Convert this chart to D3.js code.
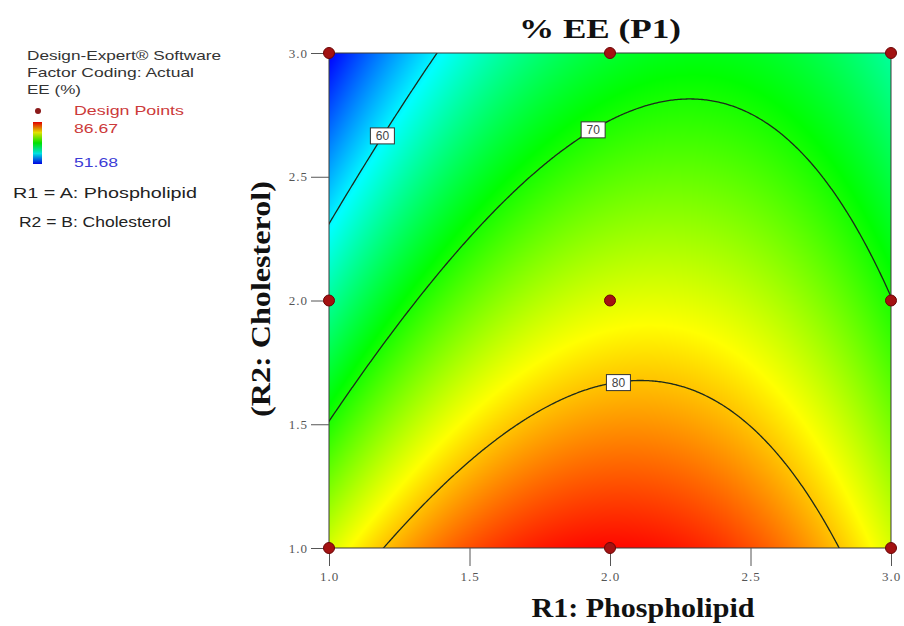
<!DOCTYPE html>
<html><head><meta charset="utf-8">
<script src="https://cdn.jsdelivr.net/npm/d3@7/dist/d3.min.js"></script>
<style>body{margin:0;background:#fff;} svg{display:block;}</style>
</head><body>
<svg id="chart" width="904" height="626"></svg>
<script>
// ---------- data (3x3 design) ----------
const phospholipid = [1.0, 2.0, 3.0, 1.0, 2.0, 3.0, 1.0, 2.0, 3.0];   // R1 (A)
const cholesterol  = [1.0, 1.0, 1.0, 2.0, 2.0, 2.0, 3.0, 3.0, 3.0];   // R2 (B)
const eeValues     = [76.49, 86.67, 76.49, 63.84, 76.67, 70.20, 51.68, 67.38, 63.79];
const contourLevels  = [60, 70, 80];
const contourLabelAt = [1.19, 1.94, 2.03];   // R1 value where each level label sits
const xTicks = [1.0, 1.5, 2.0, 2.5, 3.0];
const yTicks = [1.0, 1.5, 2.0, 2.5, 3.0];
const colorRange = [51.68, 86.67];
const titleText = "% EE (P1)";
const xLabel = "R1: Phospholipid";
const yLabel = "(R2: Cholesterol)";

// ---------- quadratic response-surface fit (least squares) ----------
function terms(A, B) { const a = A - 2, b = B - 2; return [1, a, b, a * b, a * a, b * b]; }
function fitModel() {
  const n = 6, M = Array.from({length: n}, () => new Array(n + 1).fill(0));
  eeValues.forEach((v, k) => {
    const t = terms(phospholipid[k], cholesterol[k]);
    for (let i = 0; i < n; i++) { for (let j = 0; j < n; j++) M[i][j] += t[i] * t[j]; M[i][n] += t[i] * v; }
  });
  for (let c = 0; c < n; c++) {
    let p = c; for (let r = c + 1; r < n; r++) if (Math.abs(M[r][c]) > Math.abs(M[p][c])) p = r;
    [M[c], M[p]] = [M[p], M[c]];
    for (let r = 0; r < n; r++) if (r !== c) {
      const f = M[r][c] / M[c][c];
      for (let k = c; k <= n; k++) M[r][k] -= f * M[c][k];
    }
  }
  return M.map((row, i) => row[n] / row[i]);
}
const coef = fitModel();
const model = (A, B) => terms(A, B).reduce((s, t, i) => s + t * coef[i], 0);

// ---------- scales ----------
const L = 329, R = 891, T = 53, Bt = 548;
const x = d3.scaleLinear().domain([1, 3]).range([L, R]);
const y = d3.scaleLinear().domain([1, 3]).range([Bt, T]);
const [lo, hi] = colorRange, st = (hi - lo) / 4;
const color = d3.scaleLinear()
  .domain([lo, lo + st, lo + 2 * st, lo + 3 * st, hi])
  .range(["#0000ff", "#00ffff", "#00ff00", "#ffff00", "#ff0000"])
  .clamp(true);

const svg = d3.select("#chart");

// ---------- heat map ----------
const W = R - L, H = Bt - T;
const cv = document.createElement("canvas"); cv.width = W; cv.height = H;
const ctx = cv.getContext("2d"), img = ctx.createImageData(W, H);
for (let py = 0; py < H; py++) {
  const B = y.invert(T + py + 0.5);
  for (let px = 0; px < W; px++) {
    const c = d3.rgb(color(model(x.invert(L + px + 0.5), B)));
    const o = (py * W + px) * 4;
    img.data[o] = c.r; img.data[o + 1] = c.g; img.data[o + 2] = c.b; img.data[o + 3] = 255;
  }
}
ctx.putImageData(img, 0, 0);
svg.append("image").attr("x", L).attr("y", T).attr("width", W).attr("height", H)
  .attr("preserveAspectRatio", "none").attr("href", cv.toDataURL());

// ---------- contour lines ----------
svg.append("clipPath").attr("id", "plotclip").append("rect")
  .attr("x", L).attr("y", T).attr("width", W).attr("height", H);
const g0 = 0.9, step = 0.005, ng = Math.round((3.1 - g0) / step) + 1;
const grid = new Float64Array(ng * ng);
for (let j = 0; j < ng; j++) for (let i = 0; i < ng; i++) grid[j * ng + i] = model(g0 + i * step, g0 + j * step);
const contours = d3.contours().size([ng, ng]).thresholds(contourLevels)(Array.from(grid));
const proj = d3.geoTransform({ point(px, py) { this.stream.point(x(g0 + px * step), y(g0 + py * step)); } });
svg.append("g").attr("clip-path", "url(#plotclip)")
  .selectAll("path").data(contours).join("path")
  .attr("d", d3.geoPath(proj)).attr("fill", "none")
  .attr("stroke", "#1c2a1c").attr("stroke-width", 1.3);

// contour labels
function levelB(A, level) {
  let prev = model(A, 1), pb = 1;
  for (let B = 1.001; B <= 3; B += 0.001) {
    const v = model(A, B);
    if ((prev - level) * (v - level) <= 0) return pb + (level - prev) / (v - prev) * (B - pb);
    prev = v; pb = B;
  }
  return 2;
}
const lab = svg.append("g").selectAll("g").data(contourLevels).join("g")
  .attr("transform", (d, i) => `translate(${x(contourLabelAt[i])},${y(levelB(contourLabelAt[i], d))})`);
lab.append("rect").attr("x", -12).attr("y", -8).attr("width", 24).attr("height", 16)
  .attr("fill", "#fff").attr("stroke", "#333").attr("stroke-width", 1);
lab.append("text").text(d => d).attr("text-anchor", "middle").attr("dy", "0.36em")
  .attr("font-family", "Liberation Sans, Arial, sans-serif").attr("font-size", 12).attr("fill", "#444");

// ---------- frame & axes ----------
svg.append("rect").attr("x", L).attr("y", T).attr("width", W).attr("height", H)
  .attr("fill", "none").attr("stroke", "#3a3a3a").attr("stroke-width", 1);

const xa = svg.append("g").attr("transform", `translate(0,${Bt})`)
  .call(d3.axisBottom(x).tickValues(xTicks).tickFormat(d3.format(".1f")).tickSize(18).tickPadding(6));
const ya = svg.append("g").attr("transform", `translate(${L},0)`)
  .call(d3.axisLeft(y).tickValues(yTicks).tickFormat(d3.format(".1f")).tickSize(18).tickPadding(3));
[xa, ya].forEach(a => {
  a.select(".domain").remove();
  a.selectAll(".tick line").attr("stroke", "#555");
  a.selectAll(".tick text").attr("font-family", "Liberation Serif, Times New Roman, serif")
    .attr("font-size", 13).attr("fill", "#555").attr("letter-spacing", 1);
});

// ---------- design points ----------
svg.append("g").selectAll("circle").data(eeValues).join("circle")
  .attr("cx", (d, i) => x(phospholipid[i])).attr("cy", (d, i) => y(cholesterol[i]))
  .attr("r", 5.5).attr("fill", "#a31212").attr("stroke", "#6b0606").attr("stroke-width", 1);

// ---------- titles ----------
const serif = "Liberation Serif, Times New Roman, serif";
svg.append("text").text(titleText).attr("x", 600).attr("y", 38).attr("text-anchor", "middle")
  .attr("font-family", serif).attr("font-weight", "bold").attr("font-size", 28)
  .attr("textLength", 162).attr("lengthAdjust", "spacingAndGlyphs").attr("fill", "#111");
svg.append("text").text(xLabel).attr("x", 643).attr("y", 617).attr("text-anchor", "middle")
  .attr("font-family", serif).attr("font-weight", "bold").attr("font-size", 27)
  .attr("textLength", 223).attr("lengthAdjust", "spacingAndGlyphs").attr("fill", "#111");
svg.append("text").text(yLabel).attr("transform", "translate(270,299) rotate(-90)")
  .attr("text-anchor", "middle").attr("font-family", serif).attr("font-weight", "bold")
  .attr("font-size", 27).attr("textLength", 236).attr("lengthAdjust", "spacingAndGlyphs").attr("fill", "#111");

// ---------- legend ----------
const sans = "Liberation Sans, Arial, sans-serif";
const leg = svg.append("g").attr("font-family", sans);
const legendItems = [
  {t: "Design-Expert® Software", x: 27, y: 60, w: 194, c: "#333", s: 13},
  {t: "Factor Coding: Actual", x: 27, y: 77, w: 167, c: "#333", s: 13},
  {t: "EE (%)", x: 27, y: 94, w: 54, c: "#333", s: 13},
  {t: "Design Points", x: 74, y: 115, w: 110, c: "#cc3a3a", s: 13},
  {t: colorRange[1].toFixed(2), x: 74, y: 133, w: 44, c: "#cc3a3a", s: 13},
  {t: colorRange[0].toFixed(2), x: 74, y: 167, w: 44, c: "#3c3cd6", s: 13},
  {t: "R1 = A: Phospholipid", x: 13, y: 198, w: 184, c: "#222", s: 14},
  {t: "R2 = B: Cholesterol", x: 19, y: 227, w: 152, c: "#222", s: 14}
];
leg.selectAll("text").data(legendItems).join("text").text(d => d.t)
  .attr("x", d => d.x).attr("y", d => d.y).attr("fill", d => d.c).attr("font-size", d => d.s)
  .attr("textLength", d => d.w).attr("lengthAdjust", "spacingAndGlyphs");
leg.append("circle").attr("cx", 38).attr("cy", 111).attr("r", 3).attr("fill", "#8b1a1a");
const grad = svg.append("defs").append("linearGradient").attr("id", "cbar")
  .attr("x1", 0).attr("y1", 1).attr("x2", 0).attr("y2", 0);
grad.selectAll("stop").data(color.domain()).join("stop")
  .attr("offset", d => (d - lo) / (hi - lo)).attr("stop-color", d => d3.color(color(d)).darker(0.35));
leg.append("rect").attr("x", 33).attr("y", 122).attr("width", 9).attr("height", 42).attr("fill", "url(#cbar)");
</script>
</body></html>
